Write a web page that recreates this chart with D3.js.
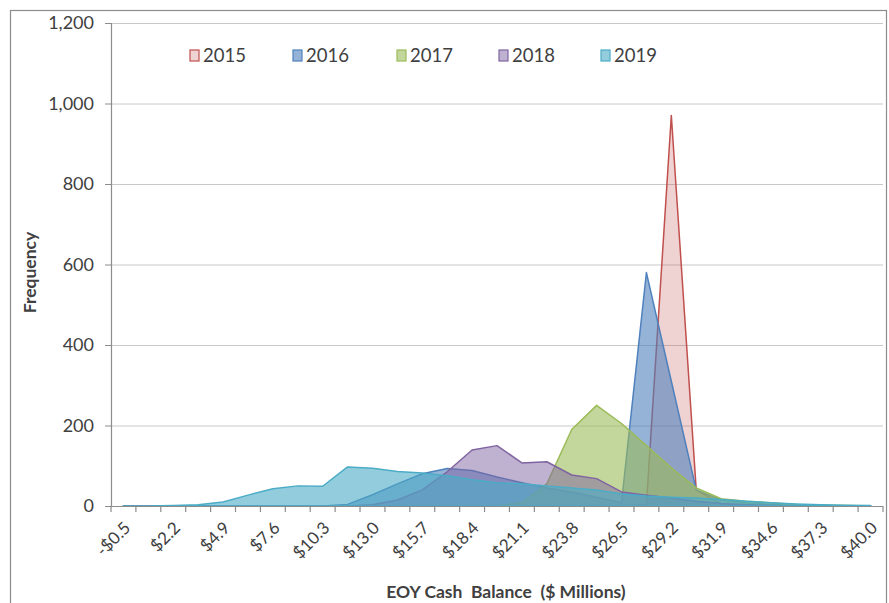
<!DOCTYPE html>
<html>
<head>
<meta charset="utf-8">
<script src="https://cdn.jsdelivr.net/npm/d3@7"></script>
<style>
  html, body { margin: 0; padding: 0; background: #fff; }
  svg { display: block; }
  text { font-family: Lato, "Liberation Sans", sans-serif; fill: #404040; }
</style>
</head>
<body>
<svg id="chart" width="889" height="603"></svg>
<script>
// ---- data ----
const categories = [-0.5, 0.85, 2.2, 3.55, 4.9, 6.25, 7.6, 8.95, 10.3, 11.65, 13.0, 14.35, 15.7, 17.05, 18.4, 19.75,
  21.1, 22.45, 23.8, 25.15, 26.5, 27.85, 29.2, 30.55, 31.9, 33.25, 34.6, 35.95, 37.3, 38.65, 40.0];
const seriesNames = ["2015", "2016", "2017", "2018", "2019"];
const s2015 = [0,0,0,0,0,0,0,0,0,0, 0,0,0,0,0,0,0,0,0,0, 0,3,970,40,5,1,0,0,0,0,0];
const s2016 = [0,0,0,0,0,0,0,0,0,4, 28,55,80,93,88,72,58,45,35,22, 8,580,310,40,15,8,4,2,1,0,0];
const s2017 = [0,0,0,0,0,0,0,0,0,0, 0,0,0,0,0,0,8,55,190,250, 205,150,95,45,18,12,8,4,2,1,0];
const s2018 = [0,0,0,0,0,0,0,0,0,0, 3,15,40,85,139,150,107,110,77,68, 35,27,20,12,6,3,1,0,0,0,0];
const s2019 = [0,0,1,3,10,27,43,50,49,97, 94,86,82,75,65,58,55,50,45,40, 30,25,22,20,16,12,8,5,3,2,1];
const yTicks = [0, 200, 400, 600, 800, 1000, 1200];
const colors = ["#C0504D", "#4F81BD", "#9BBB59", "#8064A2", "#4BACC6"];
const fillOpacity = [0.25, 0.6, 0.6, 0.5, 0.6];

const allSeries = [s2015, s2016, s2017, s2018, s2019];

const svg = d3.select("#chart");

// outer border
svg.append("rect").attr("x", 10.5).attr("y", 10.5).attr("width", 876).attr("height", 600)
  .attr("fill", "none").attr("stroke", "#8c8c8c").attr("stroke-width", 1.2);

const plot = { left: 111, right: 883, top: 23, bottom: 506 };

const x = d3.scaleBand().domain(d3.range(categories.length)).range([plot.left, plot.right]).padding(0);
const cx = i => x(i) + x.bandwidth() / 2;
const y = d3.scaleLinear().domain([0, 1200]).range([plot.bottom, plot.top]);

// gridlines
svg.append("g").selectAll("line").data(yTicks.filter(d => d > 0)).join("line")
  .attr("x1", plot.left).attr("x2", plot.right)
  .attr("y1", d => y(d) + 0.5).attr("y2", d => y(d) + 0.5)
  .attr("stroke", "#c8c8c8").attr("stroke-width", 1);

// areas
const area = d3.area()
  .x((d, i) => cx(i))
  .y0(y(0))
  .y1(d => y(d));

allSeries.forEach((s, k) => {
  svg.append("path").datum(s)
    .attr("d", area)
    .attr("fill", colors[k]).attr("fill-opacity", fillOpacity[k])
    .attr("stroke", colors[k]).attr("stroke-width", 1.5).attr("stroke-linejoin", "round");
});

// y axis
const yAxis = d3.axisLeft(y).tickValues(yTicks).tickFormat(d3.format(",")).tickSize(6).tickPadding(11);
const gy = svg.append("g").attr("transform", `translate(${plot.left},0)`).call(yAxis);
gy.select(".domain").attr("stroke", "#8c8c8c").attr("stroke-width", 1.2);
gy.selectAll(".tick line").attr("stroke", "#8c8c8c");
gy.selectAll(".tick text").attr("font-size", 18).attr("fill", "#404040")
  .style("font-family", "Lato, 'Liberation Sans', sans-serif");

// x axis line + boundary ticks
svg.append("line").attr("x1", plot.left).attr("x2", plot.right)
  .attr("y1", plot.bottom + 0.5).attr("y2", plot.bottom + 0.5)
  .attr("stroke", "#8c8c8c").attr("stroke-width", 1.2);
const boundaries = d3.range(categories.length).map(i => x(i)).concat([x.range()[1]]);
svg.append("g").selectAll("line").data(boundaries).join("line")
  .attr("x1", d => d).attr("x2", d => d)
  .attr("y1", plot.bottom).attr("y2", plot.bottom + 6)
  .attr("stroke", "#8c8c8c").attr("stroke-width", 1.2);

// x labels (every other category)
const fmt = v => (v < 0 ? "-$" : "$") + Math.abs(v).toFixed(1);
svg.append("g").selectAll("text")
  .data(categories.map((v, i) => ({ v, i })).filter(d => d.i % 2 === 0))
  .join("text")
  .attr("transform", d => `translate(${cx(d.i) + 8},${plot.bottom + 23}) rotate(-45)`)
  .attr("text-anchor", "end")
  .attr("font-size", 17)
  .text(d => fmt(d.v));

// axis titles
svg.append("text")
  .attr("transform", `translate(36,${(plot.top + plot.bottom) / 2 + 8}) rotate(-90)`)
  .attr("text-anchor", "middle").attr("font-size", 17.5).attr("font-weight", "bold").attr("fill", "#262626")
  .text("Frequency");
svg.append("text")
  .attr("x", 506).attr("y", 598)
  .attr("text-anchor", "middle").attr("font-size", 17.5).attr("font-weight", "bold").attr("fill", "#262626")
  .style("white-space", "pre")
  .text("EOY Cash  Balance  ($ Millions)");

// legend
const legendX = [190, 293, 397, 499, 601];
const lg = svg.append("g");
seriesNames.forEach((name, k) => {
  const g = lg.append("g").attr("transform", `translate(${legendX[k]},50)`);
  g.append("rect").attr("x", 0).attr("y", 0).attr("width", 9).attr("height", 11)
    .attr("fill", colors[k]).attr("fill-opacity", fillOpacity[k])
    .attr("stroke", colors[k]).attr("stroke-width", 1.2);
  g.append("text").attr("x", 13).attr("y", 12).attr("font-size", 18.5).attr("fill", "#404040").text(name);
});
</script>
</body>
</html>
